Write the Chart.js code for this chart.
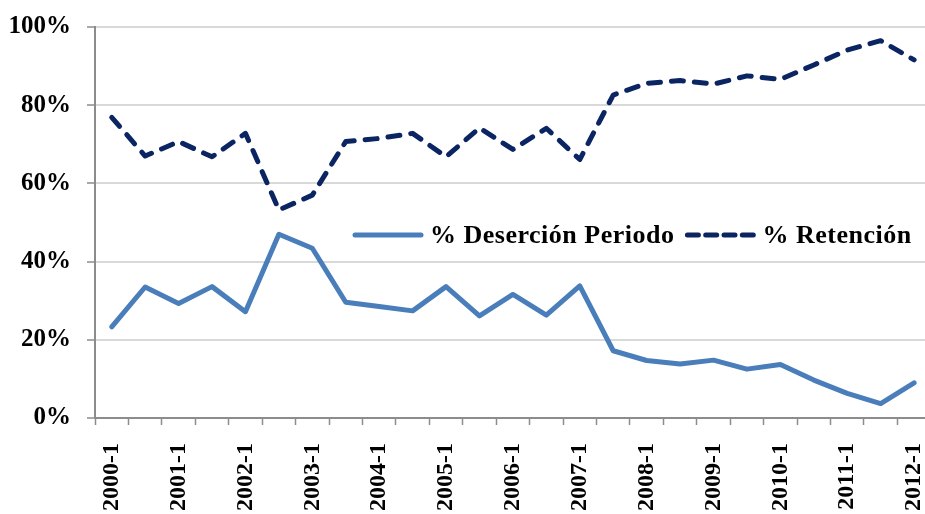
<!DOCTYPE html>
<html>
<head>
<meta charset="utf-8">
<script src="https://cdn.jsdelivr.net/npm/chart.js@4/dist/chart.umd.min.js"></script>
<style>
  html, body { margin: 0; padding: 0; background: #fff; overflow: hidden; }
  #wrap { width: 961px; height: 514px; }
</style>
</head>
<body>
<div id="wrap"><canvas id="c" width="961" height="514"></canvas></div>
<script>
const categories = [
  '2000-1','2000-2','2001-1','2001-2','2002-1','2002-2','2003-1','2003-2',
  '2004-1','2004-2','2005-1','2005-2','2006-1','2006-2','2007-1','2007-2',
  '2008-1','2008-2','2009-1','2009-2','2010-1','2010-2','2011-1','2011-2','2012-1'
];
const desercion = [
  23.3, 33.5, 29.3, 33.6, 27.2, 47.0, 43.4, 29.6,
  28.5, 27.4, 33.6, 26.1, 31.6, 26.3, 33.8, 17.2,
  14.7, 13.8, 14.8, 12.5, 13.7, 9.7, 6.3, 3.7, 9.0
];
const retencion = [
  76.9, 67.0, 70.7, 66.8, 72.8, 53.2, 57.0, 70.7,
  71.5, 72.8, 66.8, 74.2, 68.7, 74.1, 66.1, 82.6,
  85.6, 86.3, 85.4, 87.5, 86.6, 90.3, 94.1, 96.5, 91.6
];
const yTicks = [0, 20, 40, 60, 80, 100];

const FONT = "'Liberation Serif', 'DejaVu Serif', serif";

const legendPlugin = {
  id: 'inlineLegend',
  afterDraw(chart) {
    const ctx = chart.ctx;
    const ca = chart.chartArea;
    const yPix = chart.scales.y.getPixelForValue(46.8);
    let x = ca.left + 260;
    ctx.save();
    ctx.font = "bold 26px " + FONT;
    try { ctx.letterSpacing = '0.5px'; } catch (e) {}
    ctx.textBaseline = 'middle';
    ctx.fillStyle = '#000';
    chart.data.datasets.forEach((ds, i) => {
      const sampleLen = 66;
      ctx.beginPath();
      ctx.strokeStyle = ds.borderColor;
      ctx.lineWidth = ds.borderWidth;
      ctx.lineCap = 'round';
      ctx.setLineDash(ds.borderDash ? [11, 7.3] : []);
      ctx.moveTo(x, yPix);
      ctx.lineTo(x + sampleLen, yPix);
      ctx.stroke();
      ctx.setLineDash([]);
      x += sampleLen + 9;
      ctx.fillText(ds.label, x, yPix + 1);
      x += ctx.measureText(ds.label).width + 13;
    });
    ctx.restore();
  }
};

new Chart(document.getElementById('c'), {
  type: 'line',
  data: {
    labels: categories,
    datasets: [
      {
        label: '% Deserción Periodo',
        data: desercion,
        borderColor: '#4a7ebb',
        borderWidth: 5,
        borderCapStyle: 'round',
        borderJoinStyle: 'round',
        pointRadius: 0,
        tension: 0,
        fill: false
      },
      {
        label: '% Retención',
        data: retencion,
        borderColor: '#0b2563',
        borderWidth: 5,
        borderDash: [12, 11],
        borderCapStyle: 'round',
        borderJoinStyle: 'round',
        pointRadius: 0,
        tension: 0,
        fill: false
      }
    ]
  },
  options: {
    responsive: false,
    animation: false,
    devicePixelRatio: 1,
    layout: { padding: { top: 27, right: 5, left: 0, bottom: 0 } },
    plugins: {
      legend: { display: false },
      tooltip: { enabled: false }
    },
    scales: {
      x: {
        type: 'category',
        offset: true,
        grid: {
          offset: true,
          drawOnChartArea: false,
          drawTicks: true,
          tickLength: 7,
          tickColor: '#8c8c8c',
          tickWidth: 1.5
        },
        border: { color: '#8c8c8c', width: 2 },
        ticks: {
          autoSkip: false,
          minRotation: 90,
          maxRotation: 90,
          padding: 18,
          color: '#000',
          font: { family: FONT, size: 24, weight: 'bold' },
          callback: function(v, i) { return i % 2 === 0 ? categories[i] : ''; }
        },
        afterFit(scale) { scale.height = 96; }
      },
      y: {
        min: 0,
        max: 100,
        afterBuildTicks(scale) { scale.ticks = yTicks.map(v => ({ value: v })); },
        grid: {
          color: '#d9d9d9',
          lineWidth: 2,
          tickLength: 8,
          tickColor: '#8c8c8c',
          tickWidth: 1.5
        },
        border: { color: '#8c8c8c', width: 2 },
        ticks: {
          padding: 16,
          color: '#000',
          font: { family: FONT, size: 25, weight: 'bold' },
          callback: v => v + '%'
        },
        afterFit(scale) { scale.width = 95; scale.paddingTop = 0; scale.paddingBottom = 0; }
      }
    }
  },
  plugins: [legendPlugin]
});
</script>
</body>
</html>
